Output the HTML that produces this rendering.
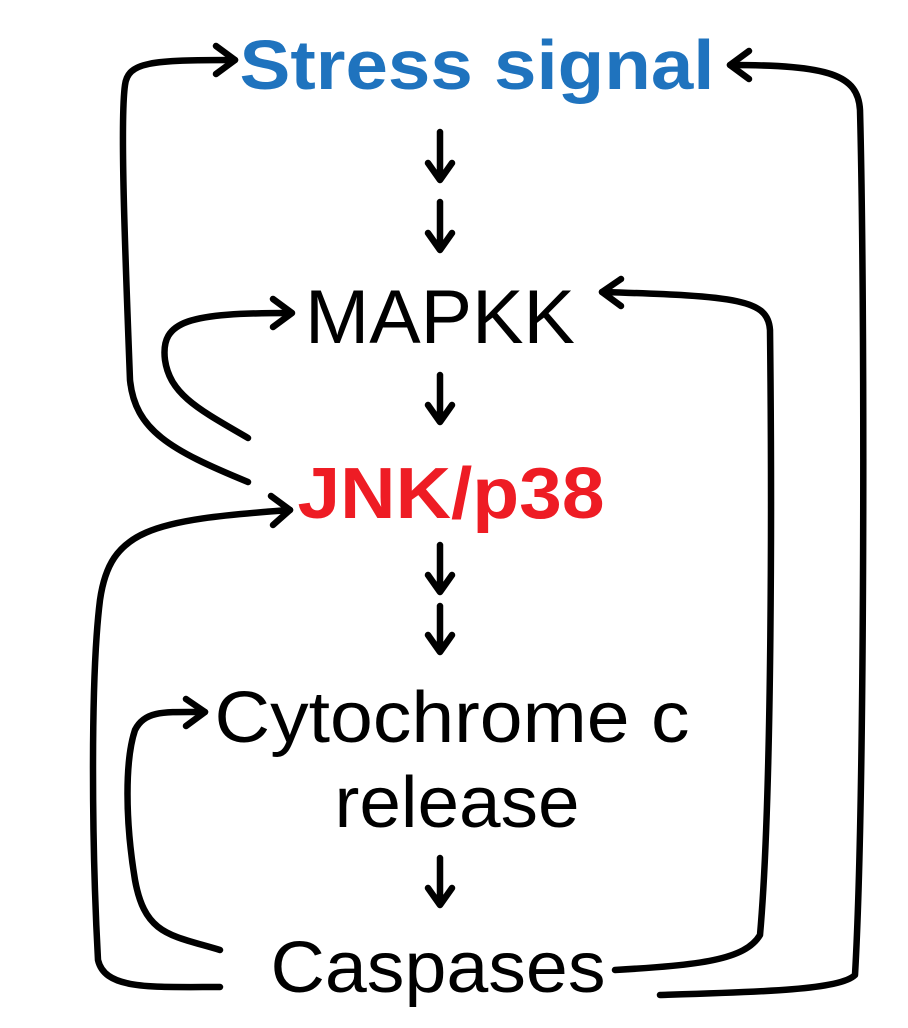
<!DOCTYPE html>
<html><head><meta charset="utf-8"><style>
html,body{margin:0;padding:0;background:#fff;}
svg{display:block;}
</style></head><body>
<svg width="908" height="1028" viewBox="0 0 908 1028" xmlns="http://www.w3.org/2000/svg">
<g font-family="'Liberation Sans', Arial, sans-serif" text-anchor="middle">
<text x="477" y="89" font-size="70" font-weight="bold" fill="#1f73be" textLength="475" lengthAdjust="spacingAndGlyphs">Stress signal</text>
<text x="440" y="343" font-size="76" fill="#000" textLength="270" lengthAdjust="spacingAndGlyphs">MAPKK</text>
<text x="451" y="518" font-size="72" font-weight="bold" fill="#ee1c24" textLength="307" lengthAdjust="spacingAndGlyphs">JNK/p38</text>
<text x="452" y="742" font-size="72" fill="#000" textLength="475" lengthAdjust="spacingAndGlyphs">Cytochrome c</text>
<text x="457" y="827" font-size="72" fill="#000" textLength="245" lengthAdjust="spacingAndGlyphs">release</text>
<text x="438" y="992" font-size="72" fill="#000" textLength="335" lengthAdjust="spacingAndGlyphs">Caspases</text>
</g>
<g fill="none" stroke="#000" stroke-width="6.5" stroke-linecap="round" stroke-linejoin="round">
<path d="M440 132 V178 M428 163 L440 180 L452 163"/>
<path d="M440 202 V248 M428 233 L440 250 L452 233"/>
<path d="M440 375 V420 M428 405 L440 422 L452 405"/>
<path d="M440 545 V590 M428 575 L440 592 L452 575"/>
<path d="M440 606 V650 M428 635 L440 652 L452 635"/>
<path d="M440 858 V903 M428 888 L440 905 L452 888"/>
<path d="M248 438 C200 410 170 395 165 360 C160 320 190 313 290 313"/>
<path d="M273 299 L292 313 L273 327"/>
<path d="M248 482 C170 450 135 430 130 380 C125 250 120 120 125 85 C128 62 150 60 235 60"/>
<path d="M216 46 L235 60 L216 74"/>
<path d="M220 987 C150 987 105 990 98 960 C92 850 90 680 100 600 C110 530 150 520 290 510"/>
<path d="M271 496 L290 510 L273 525"/>
<path d="M220 950 C170 935 145 935 135 880 C125 820 125 760 135 730 C145 710 165 712 205 712"/>
<path d="M186 699 L205 712 L186 726"/>
<path d="M615 970 C700 965 745 960 760 935 C772 800 772 500 770 330 C768 300 740 296 602 292"/>
<path d="M621 279 L602 292 L621 306"/>
<path d="M660 995 C760 992 840 990 855 975 C865 800 865 300 860 110 C858 75 830 65 730 65"/>
<path d="M749 51 L730 65 L749 79"/>
</g>
</svg>
</body></html>
